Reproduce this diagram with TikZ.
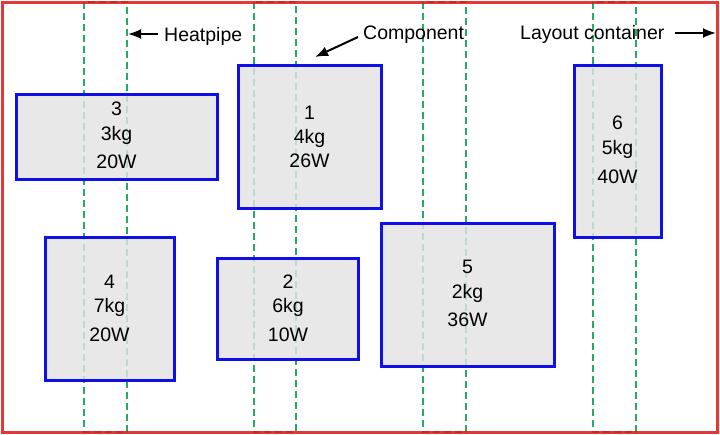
\documentclass[tikz,border=0pt]{standalone}
\usepackage{fontspec}
\setmainfont{Liberation Sans}
\usetikzlibrary{arrows.meta}
\definecolor{pipegreen}{RGB}{40,168,105}
\definecolor{compblue}{RGB}{15,15,235}
\definecolor{contred}{RGB}{226,20,20}
\definecolor{compgray}{RGB}{227,227,227}
\tikzset{
  pipeline/.style={pipegreen, line width=1.5pt, dash pattern=on 7pt off 4pt},
  comp/.style={draw=compblue, line width=3pt, fill=compgray, fill opacity=0.82, draw opacity=1, rectangle, inner sep=0pt},
  txt/.style={anchor=base, inner sep=0pt, font=\fontsize{19.5}{23}\selectfont},
  lbl/.style={anchor=base west, inner sep=0pt, font=\fontsize{19.5}{23}\selectfont},
  pointer/.style={-{Latex[length=13pt,width=10pt]}, line width=2pt, black}
}
\begin{document}
\begin{tikzpicture}[x=1pt,y=-1pt]
\useasboundingbox (0,0) rectangle (720,434);
\fill[white] (0,0) rectangle (720,434);
% heatpipes
\foreach \a/\b in {84/127, 254/296, 423/466, 593/636}{
  \draw[pipeline] (\a,2) rectangle (\b,432);
}
% components
\node[comp, minimum width=201pt, minimum height=85pt] (c3) at (116.5,136.5) {};
\node[comp, minimum width=143pt, minimum height=143pt] (c1) at (309.5,136.5) {};
\node[comp, minimum width=87pt, minimum height=172pt] (c6) at (617.5,151) {};
\node[comp, minimum width=129pt, minimum height=143pt] (c4) at (109.5,308.5) {};
\node[comp, minimum width=141pt, minimum height=101pt] (c2) at (287.5,308.5) {};
\node[comp, minimum width=173pt, minimum height=143pt] (c5) at (467.5,294.5) {};
% component texts
\node[txt] (t3a) at (116.5,115) {3};
\node[txt] (t3b) at (116.5,140) {3kg};
\node[txt] (t3c) at (116.5,168) {20W};
\node[txt] (t1a) at (309.5,119) {1};
\node[txt] (t1b) at (309.5,143) {4kg};
\node[txt] (t1c) at (309.5,167) {26W};
\node[txt] (t6a) at (617.5,129) {6};
\node[txt] (t6b) at (617.5,154) {5kg};
\node[txt] (t6c) at (617.5,183) {40W};
\node[txt] (t4a) at (109.5,288) {4};
\node[txt] (t4b) at (109.5,312) {7kg};
\node[txt] (t4c) at (109.5,341) {20W};
\node[txt] (t2a) at (288,288) {2};
\node[txt] (t2b) at (288,312) {6kg};
\node[txt] (t2c) at (288,341) {10W};
\node[txt] (t5a) at (467.5,273) {5};
\node[txt] (t5b) at (467.5,298) {2kg};
\node[txt] (t5c) at (467.5,326) {36W};
% container
\draw[contred, line width=3pt, draw opacity=0.85] (2,2) rectangle (717,432);
% labels
\node[lbl] (lhp) at (164,41) {Heatpipe};
\node[lbl] (lcomp) at (363,39) {Component};
\node[lbl] (llay) at (520,39) {Layout container};
\coordinate (hpT) at (158,34);
\coordinate (hpH) at (128,34);
\coordinate (cpT) at (358,37);
\coordinate (cpH) at (315,57);
\coordinate (lyT) at (675,33);
\coordinate (lyH) at (716,33);
\draw[pointer] (hpT) -- (hpH);
\draw[pointer] (cpT) -- (cpH);
\draw[pointer] (lyT) -- (lyH);
\end{tikzpicture}
\end{document}
